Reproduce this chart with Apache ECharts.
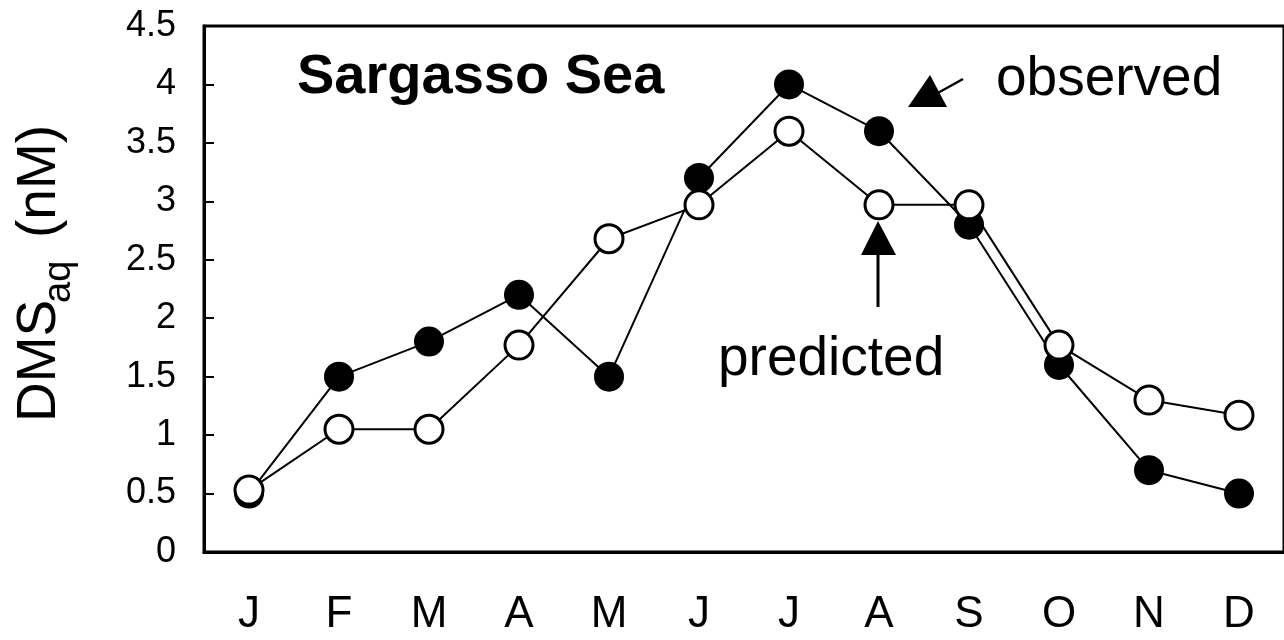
<!DOCTYPE html>
<html>
<head>
<meta charset="utf-8">
<script src="https://cdn.jsdelivr.net/npm/echarts@6/dist/echarts.min.js"></script>
<style>
  html, body { margin: 0; padding: 0; background: #fff; }
  #chart { width: 1284px; height: 640px; }
</style>
</head>
<body>
<div id="chart"></div>
<script>
// Monthly DMS concentrations, Sargasso Sea
const months = ['J', 'F', 'M', 'A', 'M', 'J', 'J', 'A', 'S', 'O', 'N', 'D'];
const observed = [0.5, 1.5, 1.8, 2.2, 1.5, 3.2, 4.0, 3.6, 2.8, 1.6, 0.7, 0.5];
const predicted = [0.53, 1.05, 1.05, 1.77, 2.68, 2.97, 3.6, 2.97, 2.97, 1.77, 1.3, 1.17];
const yMin = 0, yMax = 4.5, yStep = 0.5;

const FONT = '"Liberation Sans", Arial, sans-serif';
const chart = echarts.init(document.getElementById('chart'), null, { renderer: 'canvas' });

chart.setOption({
  animation: false,
  backgroundColor: '#fff',
  grid: {
    left: 204, top: 26, right: -16, bottom: 88,
    show: true, borderColor: '#000', borderWidth: 3, backgroundColor: 'transparent'
  },
  xAxis: {
    type: 'category',
    data: months,
    boundaryGap: true,
    axisLine: { lineStyle: { color: '#000', width: 3 } },
    axisTick: { inside: true, length: 12, lineStyle: { color: '#000', width: 2 } },
    axisLabel: { color: '#000', fontSize: 44, fontFamily: FONT, margin: 41 },
    splitLine: { show: false }
  },
  yAxis: {
    type: 'value',
    min: yMin, max: yMax, interval: yStep,
    axisLine: { show: true, lineStyle: { color: '#000', width: 3 } },
    axisTick: { show: true, inside: true, length: 10, lineStyle: { color: '#000', width: 2 } },
    axisLabel: { color: '#000', fontSize: 36, fontFamily: FONT, margin: 28 },
    splitLine: { show: false }
  },
  series: [
    {
      name: 'observed',
      type: 'line',
      data: observed,
      symbol: 'circle',
      symbolSize: 30,
      itemStyle: { color: '#000', borderColor: '#000', borderWidth: 0 },
      lineStyle: { color: '#000', width: 2 },
      z: 2
    },
    {
      name: 'predicted',
      type: 'line',
      data: predicted,
      symbol: 'circle',
      symbolSize: 28,
      itemStyle: { color: '#fff', borderColor: '#000', borderWidth: 3 },
      lineStyle: { color: '#000', width: 2 },
      z: 3
    }
  ],
  graphic: [
    // y-axis title, written bottom to top
    { type: 'text', x: 40, y: 422, rotation: Math.PI / 2,
      style: { text: 'DMS', font: '55px ' + FONT, fill: '#000', align: 'left', verticalAlign: 'middle' } },
    { type: 'text', x: 60, y: 303, rotation: Math.PI / 2,
      style: { text: 'aq', font: '38px ' + FONT, fill: '#000', align: 'left', verticalAlign: 'middle' } },
    { type: 'text', x: 40, y: 238, rotation: Math.PI / 2,
      style: { text: '(nM)', font: '55px ' + FONT, fill: '#000', align: 'left', verticalAlign: 'middle' } },
    // panel title
    { type: 'text', x: 297, y: 78,
      style: { text: 'Sargasso Sea', font: 'bold 56px ' + FONT, fill: '#000', align: 'left', verticalAlign: 'middle' } },
    // series labels with pointer arrows
    { type: 'text', x: 996, y: 80,
      style: { text: 'observed', font: '55px ' + FONT, fill: '#000', align: 'left', verticalAlign: 'middle' } },
    { type: 'polygon', shape: { points: [[930, 75], [908, 107], [947, 107]] }, style: { fill: '#000' } },
    { type: 'line', shape: { x1: 936, y1: 94, x2: 963, y2: 79 }, style: { stroke: '#000', lineWidth: 2.5 } },
    { type: 'text', x: 718, y: 360,
      style: { text: 'predicted', font: '55px ' + FONT, fill: '#000', align: 'left', verticalAlign: 'middle' } },
    { type: 'polygon', shape: { points: [[878, 221], [861, 255], [896, 255]] }, style: { fill: '#000' } },
    { type: 'line', shape: { x1: 878, y1: 250, x2: 878, y2: 307 }, style: { stroke: '#000', lineWidth: 3 } }
  ]
});
</script>
</body>
</html>
